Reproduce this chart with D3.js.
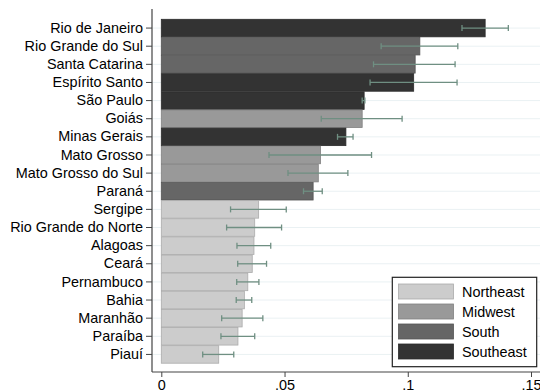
<!DOCTYPE html>
<html><head><meta charset="utf-8">
<script src="https://cdn.jsdelivr.net/npm/d3@7"></script>
<style>body{margin:0;background:#fff;}svg{display:block;font-family:"Liberation Sans",Arial,sans-serif;}</style>
</head><body>
<svg id="c" width="540" height="391"></svg>
<script>
const states = ["Rio de Janeiro","Rio Grande do Sul","Santa Catarina","Espírito Santo","São Paulo","Goiás","Minas Gerais","Mato Grosso","Mato Grosso do Sul","Paraná","Sergipe","Rio Grande do Norte","Alagoas","Ceará","Pernambuco","Bahia","Maranhão","Paraíba","Piauí"];
const regions = ["Southeast","South","South","Southeast","Southeast","Midwest","Southeast","Midwest","Midwest","South","Northeast","Northeast","Northeast","Northeast","Northeast","Northeast","Northeast","Northeast","Northeast"];
const values = [0.1314,0.1049,0.1030,0.1024,0.0823,0.0815,0.0749,0.0646,0.0637,0.0616,0.0395,0.0379,0.0376,0.0369,0.0351,0.0337,0.0328,0.0311,0.0233];
const ciLow  = [0.1220,0.0892,0.0861,0.0847,0.0815,0.0649,0.0715,0.0437,0.0514,0.0577,0.0281,0.0265,0.0307,0.0310,0.0306,0.0304,0.0245,0.0242,0.0168];
const ciHigh = [0.1408,0.1203,0.1192,0.1200,0.0826,0.0977,0.0778,0.0853,0.0757,0.0653,0.0507,0.0488,0.0444,0.0427,0.0396,0.0367,0.0412,0.0379,0.0294];
const legendRegions = ["Northeast","Midwest","South","Southeast"];
const regionColors = ["#cccccc","#999999","#666666","#333333"];
const xTicks = [0,0.05,0.1,0.15];
const xTickLabels = ["0",".05",".1",".15"];

const svg = d3.select("#c");
const x = d3.scaleLinear().domain([0,0.15]).range([161.3,531]);
const y = d3.scaleBand().domain(states).range([19,363.5]).padding(0);
const color = d3.scaleOrdinal().domain(legendRegions).range(regionColors);
const axisX = 152, axisY = 372;

// grid lines
svg.append("g").selectAll("line").data(states).join("line")
  .attr("x1",axisX).attr("x2",540)
  .attr("y1",d=>y(d)+y.bandwidth()/2).attr("y2",d=>y(d)+y.bandwidth()/2)
  .attr("stroke","#eaf1f3").attr("stroke-width",1);

// bars
svg.append("g").selectAll("rect").data(states).join("rect")
  .attr("x",x(0)).attr("y",d=>y(d)+0.3)
  .attr("width",(d,i)=>x(values[i])-x(0))
  .attr("height",y.bandwidth()-0.6)
  .attr("fill",(d,i)=>color(regions[i]))
  .attr("stroke",(d,i)=>d3.color(color(regions[i])).darker(0.5))
  .attr("stroke-width",0.8);

// error bars
const eb = svg.append("g").attr("stroke","#6f8f82").attr("stroke-width",1.3);
states.forEach((s,i)=>{
  const cy = y(s)+y.bandwidth()/2;
  eb.append("line").attr("x1",x(ciLow[i])).attr("x2",x(ciHigh[i])).attr("y1",cy).attr("y2",cy);
  eb.append("line").attr("x1",x(ciLow[i])).attr("x2",x(ciLow[i])).attr("y1",cy-3).attr("y2",cy+3);
  eb.append("line").attr("x1",x(ciHigh[i])).attr("x2",x(ciHigh[i])).attr("y1",cy-3).attr("y2",cy+3);
});

// y axis
const gy = svg.append("g").attr("transform",`translate(${axisX},0)`)
  .call(d3.axisLeft(y).tickSize(6).tickPadding(3));
gy.select(".domain").attr("d",`M0,9V${axisY}`).attr("stroke","#444").attr("stroke-width",1.2);
gy.selectAll(".tick line").attr("stroke","#444");
gy.selectAll("text").attr("font-size","14.4px").attr("fill","#000").attr("font-family","Liberation Sans, Arial, sans-serif");

// x axis
const gx = svg.append("g").attr("transform",`translate(0,${axisY})`)
  .call(d3.axisBottom(x).tickValues(xTicks).tickFormat((d,i)=>xTickLabels[i]).tickSize(5).tickPadding(3));
gx.select(".domain").attr("d",`M${axisX},0H540`).attr("stroke","#444").attr("stroke-width",1.2);
gx.selectAll(".tick line").attr("stroke","#444");
gx.selectAll("text").attr("font-size","14.4px").attr("fill","#000").attr("font-family","Liberation Sans, Arial, sans-serif");

// legend
const lg = svg.append("g");
lg.append("rect").attr("x",392.3).attr("y",277.3).attr("width",144.4).attr("height",89.4)
  .attr("fill","#fff").attr("stroke","#222").attr("stroke-width",1.2);
legendRegions.forEach((r,i)=>{
  const yy = 284 + i*20;
  lg.append("rect").attr("x",398.5).attr("y",yy).attr("width",55).attr("height",15)
    .attr("fill",color(r)).attr("stroke",d3.color(color(r)).darker(0.5)).attr("stroke-width",0.8);
  lg.append("text").attr("x",462).attr("y",yy+7.5).attr("dy","0.35em")
    .attr("font-size","14.4px").attr("fill","#000").text(r);
});
</script>
</body></html>
